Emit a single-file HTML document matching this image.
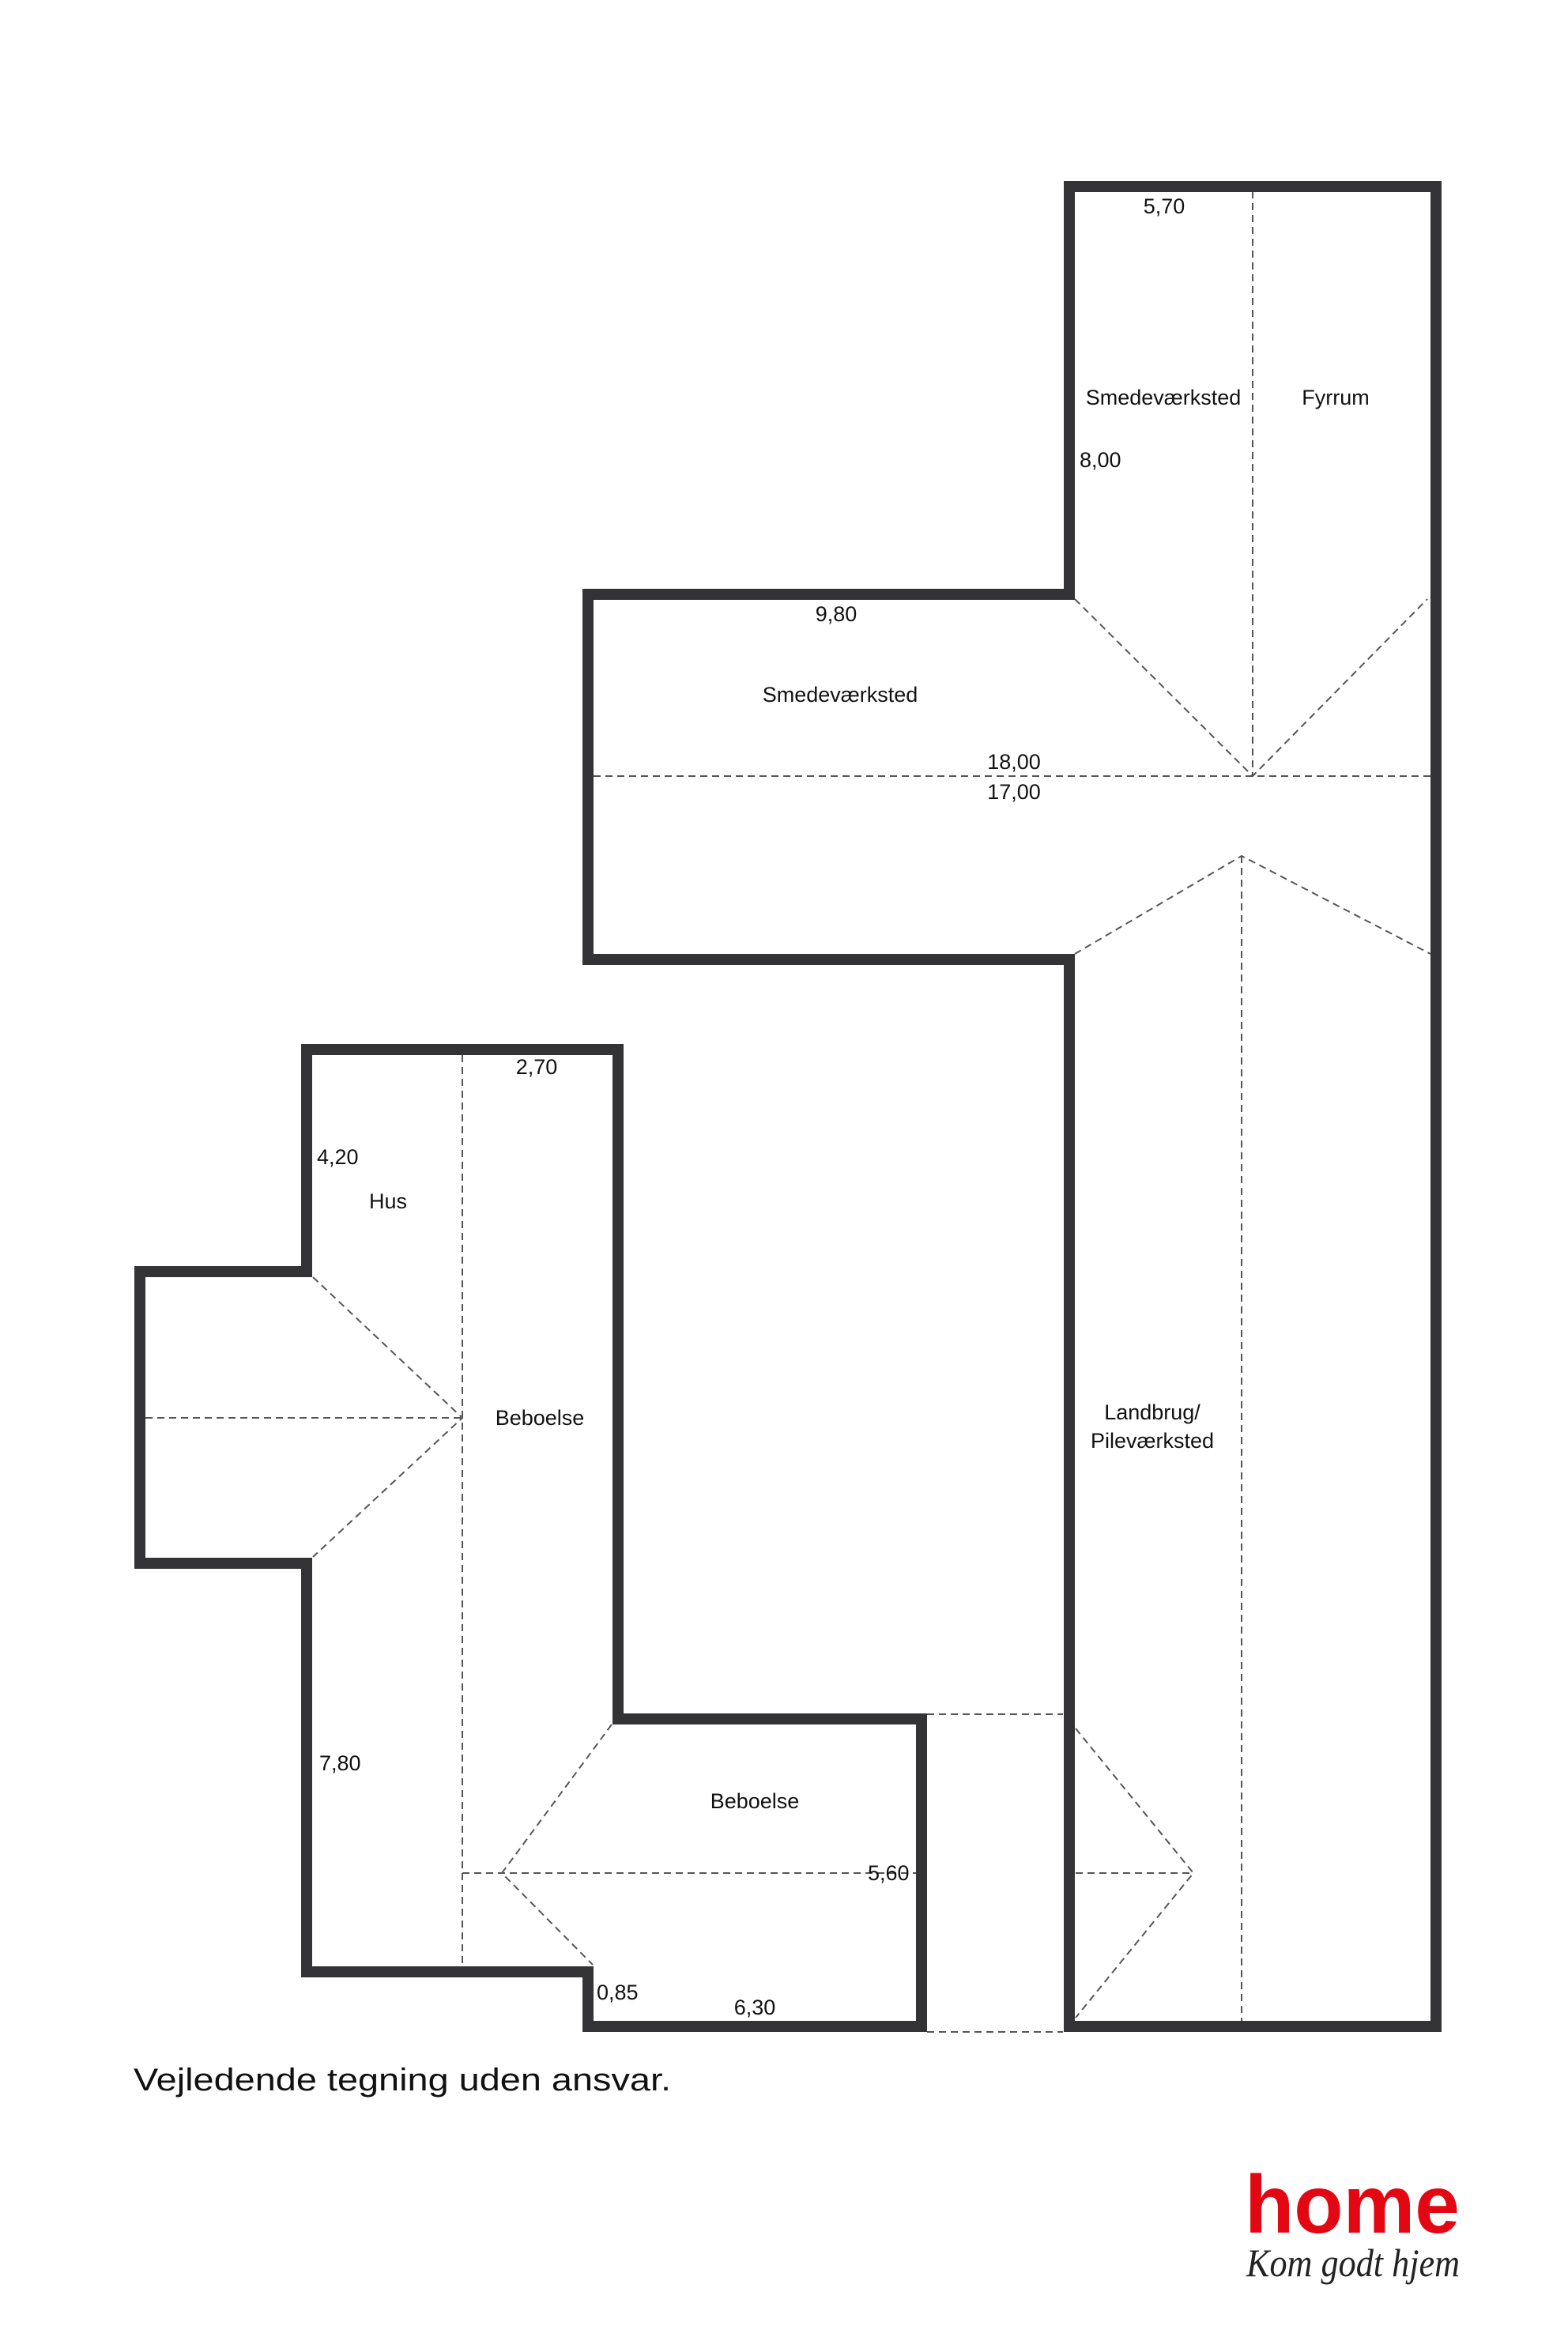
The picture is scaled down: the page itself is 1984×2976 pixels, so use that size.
<!DOCTYPE html>
<html><head><meta charset="utf-8"><style>
html,body{margin:0;padding:0;background:#fff;}
svg{display:block;}
text{font-family:"Liberation Sans",sans-serif;fill:#111;}
</style></head><body>
<svg width="1984" height="2976" viewBox="0 0 1984 2976" xmlns="http://www.w3.org/2000/svg">
<rect width="1984" height="2976" fill="#fff"/>
<g fill="none" stroke="#555" stroke-width="2" stroke-dasharray="9,6">
  <!-- top building -->
  <line x1="1585" y1="242" x2="1585" y2="982"/>
  <line x1="751" y1="982" x2="1810" y2="982"/>
  <polyline points="1360,758 1585,982 1806,758"/>
  <polyline points="1360,1207 1571,1083 1810,1207"/>
  <line x1="1571" y1="1083" x2="1571" y2="2557"/>
  <line x1="1173" y1="2169" x2="1345" y2="2169"/>
  <line x1="1173" y1="2571" x2="1345" y2="2571"/>
  <polyline points="1361,2187 1510,2370 1361,2553"/>
  <line x1="1361" y1="2370" x2="1510" y2="2370"/>
  <!-- left building -->
  <line x1="585" y1="1335" x2="585" y2="2488"/>
  <line x1="184" y1="1794" x2="585" y2="1794"/>
  <polyline points="396,1616 585,1794 396,1970"/>
  <polyline points="774,2182 635,2370 750,2486"/>
  <line x1="585" y1="2370" x2="1159" y2="2370"/>
</g>
<g fill="none" stroke="#333336" stroke-width="14" stroke-linejoin="miter">
  <path d="M1353,236 L1817,236 L1817,2564 L1353,2564 L1353,1214 L744,1214 L744,752 L1353,752 Z"/>
  <path d="M388,1328 L782,1328 L782,2175 L1166,2175 L1166,2564 L744,2564 L744,2495 L388,2495 L388,1978 L177,1978 L177,1609 L388,1609 Z"/>
</g>
<g font-size="27">
  <text x="1473" y="270" text-anchor="middle">5,70</text>
  <text x="1472" y="512" text-anchor="middle">Smedeværksted</text>
  <text x="1690" y="512" text-anchor="middle">Fyrrum</text>
  <text x="1366" y="591">8,00</text>
  <text x="1058" y="786" text-anchor="middle">9,80</text>
  <text x="1063" y="888" text-anchor="middle">Smedeværksted</text>
  <text x="1283" y="973" text-anchor="middle">18,00</text>
  <text x="1283" y="1011" text-anchor="middle">17,00</text>
  <text x="1458" y="1796" text-anchor="middle">Landbrug/</text>
  <text x="1458" y="1832" text-anchor="middle">Pileværksted</text>
  <text x="679" y="1359" text-anchor="middle">2,70</text>
  <text x="401" y="1473">4,20</text>
  <text x="491" y="1529" text-anchor="middle">Hus</text>
  <text x="683" y="1803" text-anchor="middle">Beboelse</text>
  <text x="404" y="2240">7,80</text>
  <text x="955" y="2288" text-anchor="middle">Beboelse</text>
  <text x="1098" y="2379" style="stroke:#fff;stroke-width:0">5,60</text>
  <text x="755" y="2530">0,85</text>
  <text x="955" y="2549" text-anchor="middle">6,30</text>
</g>
<text x="169" y="2645" font-size="40" textLength="680" lengthAdjust="spacingAndGlyphs">Vejledende tegning uden ansvar.</text>
<text x="1575" y="2825" font-size="104" font-weight="bold" style="fill:#e30613" textLength="272" lengthAdjust="spacingAndGlyphs">home</text>
<text x="1577" y="2880" font-size="50" font-style="italic" style="font-family:'Liberation Serif',serif;fill:#222" textLength="270" lengthAdjust="spacingAndGlyphs">Kom godt hjem</text>
</svg>
</body></html>
